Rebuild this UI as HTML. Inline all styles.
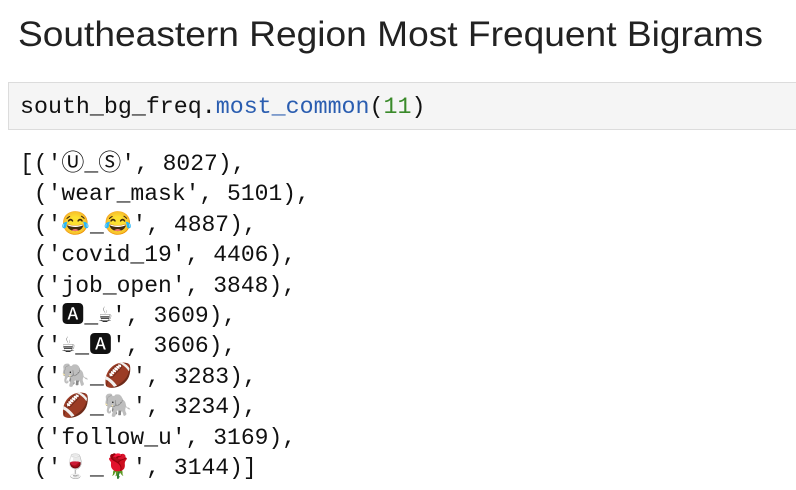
<!DOCTYPE html>
<html><head><meta charset="utf-8">
<style>
body{margin:0;width:796px;height:490px;background:#fff;overflow:hidden;position:relative;font-family:"Liberation Sans",sans-serif;color:#111}
#title{position:absolute;left:0;top:0}
#cell{position:absolute;left:8px;top:82px;width:800px;height:48px;background:#f5f5f5;border:1px solid #dcdcdc;box-sizing:border-box}
#code{position:absolute;left:20px;top:92px;font:23.3px/30px "Liberation Mono",monospace;color:#111;white-space:pre}
.fn{color:#2a5db0}.num{color:#3a8a2a}
#out{position:absolute;left:20px;top:149px;font:23px/30.4px "Liberation Mono","DejaVu Sans Mono",monospace;color:#111;white-space:pre}
</style></head><body>
<svg id="title" width="796" height="70"><text x="18" y="46" font-family="Liberation Sans, sans-serif" font-size="35" fill="#222" textLength="745" lengthAdjust="spacingAndGlyphs">Southeastern Region Most Frequent Bigrams</text></svg>
<div id="cell"></div>
<div id="code">south_bg_freq.<span class="fn">most_common</span>(<span class="num">11</span>)</div>
<div id="out"></div>
<script>
const bigrams=["\u24CA_\u24C8","wear_mask","😂_😂","covid_19","job_open","🅰_☕","☕_🅰","🐘_🏈","🏈_🐘","follow_u","🍷_🌹"];
const counts=[8027,5101,4887,4406,3848,3609,3606,3283,3234,3169,3144];
const out=document.getElementById('out');
bigrams.forEach((b,i)=>{
  const line=document.createElement('div');
  
  
  const pre=i===0?"[(":" (";
  const post=i===bigrams.length-1?")]":"),";
  line.textContent=pre+"'"+b+"', "+counts[i]+post;
  out.appendChild(line);
});
</script>
</body></html>
